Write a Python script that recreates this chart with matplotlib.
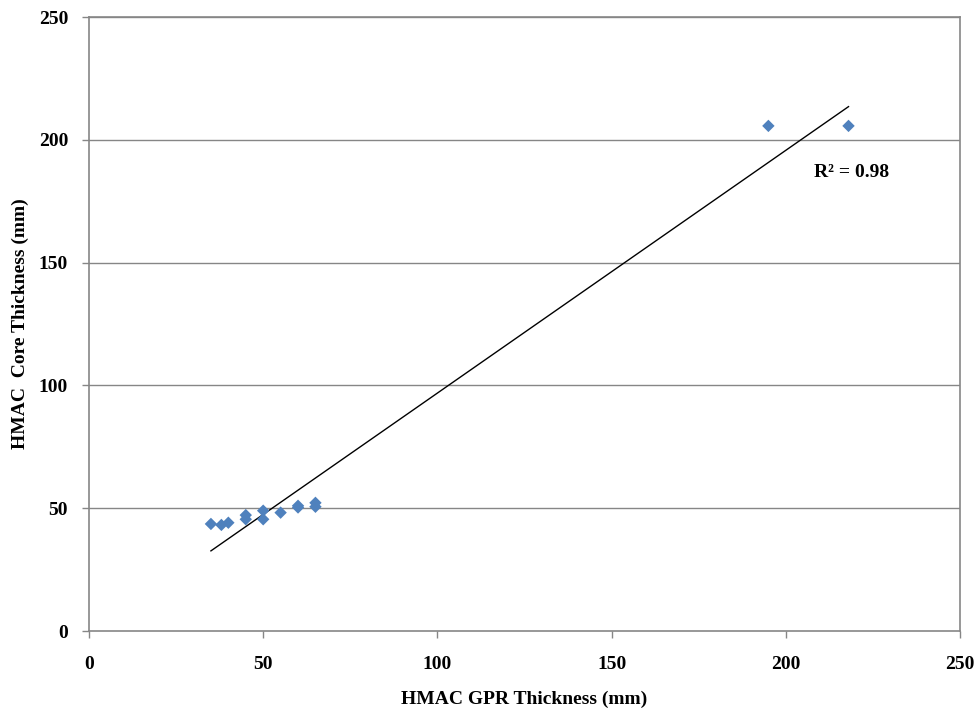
import numpy as np
import matplotlib.pyplot as plt

gpr_thickness = [35, 38, 40, 45, 45, 50, 50, 55, 60, 60, 65, 65, 195, 218]
core_thickness = [43.6, 43.2, 44.1, 47.2, 45.5, 49.0, 45.5, 48.2, 50.3, 51.0,
                  52.2, 50.6, 205.7, 205.7]
ticks = [0, 50, 100, 150, 200, 250]
r2_label = "R² = 0.98"


def main() -> None:
    """draws the scatter with linear trendline"""
    plt.rcParams['font.family'] = ['Liberation Serif', 'DejaVu Serif']
    plt.rcParams['font.weight'] = 'bold'

    fig = plt.figure(figsize=(9.8, 7.13), dpi=100)
    ax = fig.add_axes([0.0908, 0.115, 0.8888, 0.861])

    x = np.array(gpr_thickness)
    y = np.array(core_thickness)
    slope, intercept = np.polyfit(x, y, 1)
    xs = np.array([x.min(), x.max()])

    for yv in ticks[1:]:
        ax.axhline(yv, color='#868686', lw=1, zorder=0)
    ax.plot(xs, slope * xs + intercept, color='black', lw=1, zorder=2)
    ax.scatter(x, y, marker='D', s=40, color='#4F81BD', zorder=3,
               edgecolors='none')

    ax.set_xlim(0, 250)
    ax.set_ylim(0, 250)
    ax.set_xticks(ticks)
    ax.set_yticks(ticks)
    ax.tick_params(direction='out', length=5, color='#868686', width=1,
                   labelsize=14)
    ax.tick_params(axis='x', pad=13)
    ax.tick_params(axis='y', pad=10)
    for sp in ax.spines.values():
        sp.set_color('#868686')
        sp.set_linewidth(1.2)

    ax.set_xlabel("HMAC GPR Thickness (mm)", fontsize=14, fontweight='bold',
                  labelpad=13)
    ax.set_ylabel("HMAC  Core Thickness (mm)", fontsize=14,
                  fontweight='bold', labelpad=7)
    ax.text(208, 185, r2_label, fontsize=14, fontweight='bold')

    fig.savefig("out.png", dpi=100)


if __name__ == "__main__":
    main()
